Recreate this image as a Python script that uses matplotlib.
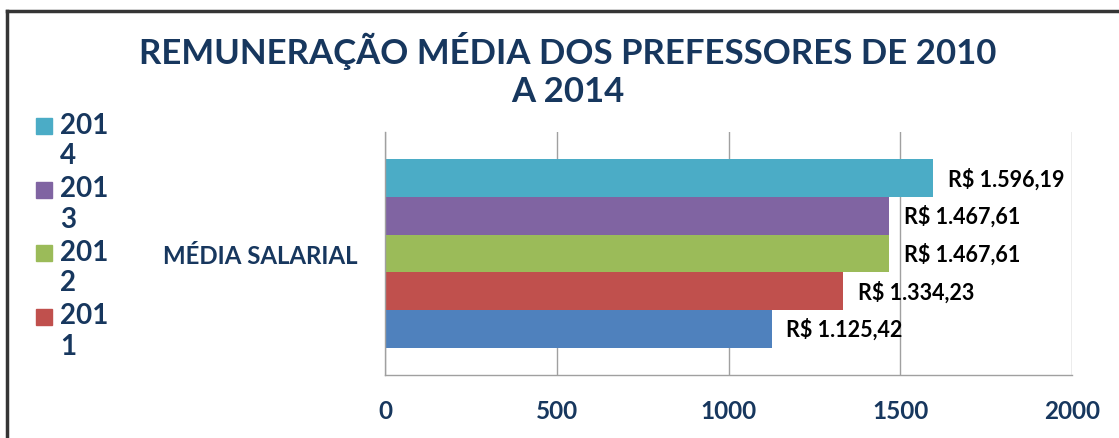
import matplotlib
matplotlib.use("Agg")
import matplotlib.pyplot as plt
from matplotlib.lines import Line2D
from matplotlib.patches import Rectangle

# ---- data ----
category = "MÉDIA SALARIAL"
years = ["2010", "2011", "2012", "2013", "2014"]
values = [1125.42, 1334.23, 1467.61, 1467.61, 1596.19]
value_labels = ["R$ 1.125,42", "R$ 1.334,23", "R$ 1.467,61", "R$ 1.467,61", "R$ 1.596,19"]
legend_years = ["2014", "2013", "2012", "2011"]
xticks = [0, 500, 1000, 1500, 2000]
title = "REMUNERAÇÃO MÉDIA DOS PREFESSORES DE 2010\nA 2014"

colors = {"2010": "#4F81BD", "2011": "#C0504D", "2012": "#9BBB59",
          "2013": "#8064A2", "2014": "#4BACC6"}
navy = "#17375E"
FONT = "Lato"

fig = plt.figure(figsize=(11.19, 4.39), dpi=100)
W, H = 1119, 439
ax = fig.add_axes([385 / W, 1 - 376 / H, (1072 - 385) / W, (376 - 133) / H])

bar_h = 0.2
for i, (yr, v, lab) in enumerate(zip(years, values, value_labels)):
    y = -0.5 + bar_h * (i + 0.5)
    ax.barh(y, v, height=bar_h, color=colors[yr], label=yr)
    ax.annotate(lab, (v, y), xytext=(10.5, 0), textcoords="offset points",
                ha="left", va="center", fontsize=15.5, fontweight="bold",
                family=FONT, color="black")

ax.set_xlim(0, 2000)
ax.set_ylim(-0.646, 0.646)
ax.set_xticks(xticks)
ax.set_xticklabels([str(t) for t in xticks], fontsize=17.5, fontweight="bold",
                   family=FONT, color=navy)
ax.set_yticks([0])
ax.set_yticklabels([category], fontsize=17.3, fontweight="bold", family=FONT,
                   color=navy)
ax.tick_params(axis="x", length=0, pad=17)
ax.tick_params(axis="y", length=0, pad=20)
ax.xaxis.grid(True, color="#A0A0A0", linewidth=1)
ax.set_axisbelow(True)
for s in ["top", "right"]:
    ax.spines[s].set_visible(False)
for s in ["left", "bottom"]:
    ax.spines[s].set_color("#A0A0A0")
    ax.spines[s].set_linewidth(1)

# legend (as drawn in the original: wrapped labels, 2014..2011)
for k, yr in enumerate(legend_years):
    yc = 127 + 63.5 * k
    fig.add_artist(Rectangle((36 / W, 1 - (yc + 8) / H), 16 / W, 16 / H,
                             transform=fig.transFigure, color=colors[yr]))
    fig.text(60 / W, 1 - (yc + 14) / H, yr[:3] + "\n" + yr[3:], ha="left",
             va="center", fontsize=20, fontweight="bold", family=FONT,
             color=navy, linespacing=1.2)

fig.text(568 / W, 1 - 70 / H, title, ha="center", va="center", fontsize=25,
         fontweight="bold", family=FONT, color=navy, linespacing=1.25)

# outer frame
fig.add_artist(Line2D([7 / W, 7 / W], [0, 1 - 12 / H], color="#353535",
                      linewidth=2.5, transform=fig.transFigure))
fig.add_artist(Line2D([7 / W, 1], [1 - 12 / H, 1 - 12 / H], color="#353535",
                      linewidth=2.5, transform=fig.transFigure))

fig.savefig("out.png", dpi=100)
